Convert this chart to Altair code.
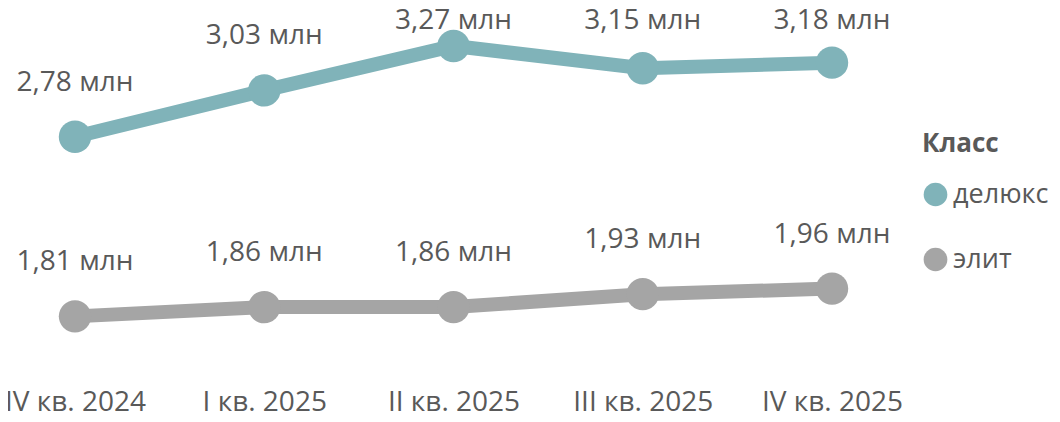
import altair as alt
import pandas as pd

quarters = ["IV кв. 2024", "I кв. 2025", "II кв. 2025", "III кв. 2025", "IV кв. 2025"]
deluxe = [2.78, 3.03, 3.27, 3.15, 3.18]
elite = [1.81, 1.86, 1.86, 1.93, 1.96]
classes = ["делюкс", "элит"]
colors = ["#80b3b9", "#a5a5a5"]

rows = []
for name, values in zip(classes, [deluxe, elite]):
    for q, v in zip(quarters, values):
        rows.append({"Квартал": q, "Класс": name, "value": v})
df = pd.DataFrame(rows)

font = "Open Sans"
text_color = "#595959"
y_scale = alt.Scale(domain=[1.65, 3.475], zero=False, nice=False)

x = alt.X("Квартал:N", sort=quarters,
          scale=alt.Scale(type="point", padding=0.354),
          axis=alt.Axis(title=None, domain=False, ticks=False, grid=False,
                        labelAngle=0, labelPadding=42, labelFontSize=28,
                        labelColor=text_color, labelFont=font))
color = alt.Color("Класс:N", scale=alt.Scale(domain=classes, range=colors),
                  legend=alt.Legend(title="Класс", orient="none", legendX=914, legendY=123,
                                    symbolType="circle", symbolSize=560,
                                    symbolStrokeWidth=0, rowPadding=37,
                                    labelFontSize=27, titleFontSize=26,
                                    labelColor=text_color, titleColor=text_color,
                                    labelFont=font, titleFont=font,
                                    titlePadding=24, labelOffset=4))

base = alt.Chart(df).encode(x=x, color=color)

lines = base.mark_line(strokeWidth=14).encode(y=alt.Y("value:Q", scale=y_scale, axis=None))
points = base.mark_circle(size=1050, opacity=1).encode(y=alt.Y("value:Q", scale=y_scale, axis=None))

# labels stay below the top edge
labels = (
    base.transform_calculate(label_y="min(datum.value, 3.115)",
                             label="replace(format(datum.value, '.2f'), '.', ',') + ' млн'")
    .mark_text(dy=-54, fontSize=28, font=font, color=text_color, baseline="middle")
    .encode(y=alt.Y("label_y:Q", scale=y_scale, axis=None),
            text="label:N", color=alt.value(text_color))
)

chart = (
    alt.layer(lines, points, labels)
    .properties(width=891, height=338,
                autosize=alt.AutoSizeParams(type="none"),
                padding={"left": 0, "top": 0, "right": 153, "bottom": 70})
    .configure_view(stroke=None)
)

chart.save("out.html", embed_options={"renderer": "svg", "actions": False})
